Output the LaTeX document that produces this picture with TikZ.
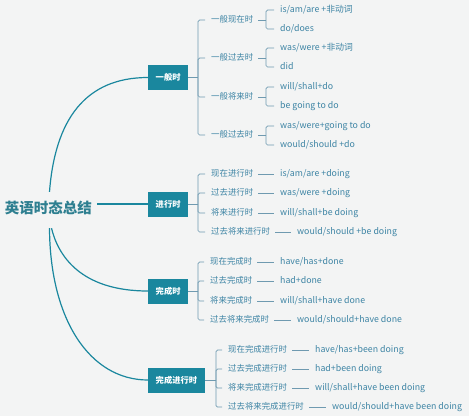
\documentclass[tikz,border=0pt]{standalone}
\usepackage{fontspec}
\setmainfont{Noto Sans CJK SC}
\definecolor{bg}{HTML}{F3F4F4}
\definecolor{teal1}{HTML}{1A879E}
\definecolor{rootc}{HTML}{2E7F90}
\definecolor{gray1}{HTML}{6F9AB0}
\definecolor{blue1}{HTML}{3D84A4}
\begin{document}
\begin{tikzpicture}[x=1pt,y=-1pt,
 mainline/.style={draw=teal1, line width=1.2pt},
 subline/.style={draw=gray1, line width=0.7pt, rounded corners=1.5pt},
 box/.style={anchor=west, fill=teal1, text=white, font=\bfseries\fontsize{8.3}{9}\selectfont, minimum height=25pt, inner xsep=7.5pt},
 lab/.style={anchor=west, inner sep=0pt, text=blue1, font=\fontsize{8.4}{10}\selectfont, text height=6.5pt, text depth=1.5pt},
 eng/.style={lab, font=\fontsize{8.8}{10}\selectfont},
 tick/.style={subline, shorten >=6pt},
 dashln/.style={subline, shorten <=5pt, shorten >=6pt},
]
\fill[bg] (0,0) rectangle (469,416);
\useasboundingbox (0,0) rectangle (469,416);

% root
\node[text=rootc, font=\bfseries\fontsize{14.5}{16}\selectfont, text height=9pt, text depth=3pt, inner xsep=5pt, inner ysep=12pt] (root) at (48.5,210) {英语时态总结};

% boxes
\node[box] (b1) at (148,77.5) {一般时};
\node[box] (b2) at (148,204) {进行时};
\node[box] (b3) at (148,291) {完成时};
\node[box] (b4) at (148,380) {完成进行时};

% main connectors
\draw[mainline] ([xshift=1pt]root.north) .. controls (55,120) and (85,77.5) .. (b1.west);
\draw[mainline] (root.east |- b2.west) -- (b2.west);
\draw[mainline] ([xshift=3pt]root.south) .. controls (58,255) and (80,291) .. (b3.west);
\draw[mainline] ([xshift=1pt]root.south) .. controls (50,320) and (90,380) .. (b4.west);

% ---------- group 1 ----------
\coordinate (j1) at (198,77.5);
\node[lab] (a1) at (211,20) {一般现在时};
\node[lab] (a2) at (211,58) {一般过去时};
\node[lab] (a3) at (211,97) {一般将来时};
\node[lab] (a4) at (211,135) {一般过去时};
\draw[subline] (b1.east) -- (j1);
\foreach \n in {a1,a2,a3,a4} \draw[tick] (j1) |- (\n.west);

\node[eng] (a1x) at (280,10) {is/am/are +非动词};
\node[eng] (a1y) at (280,29) {do/does};
\node[eng] (a2x) at (280,48) {was/were +非动词};
\node[eng] (a2y) at (280,67) {did};
\node[eng] (a3x) at (280,87) {will/shall+do};
\node[eng] (a3y) at (280,106) {be going to do};
\node[eng] (a4x) at (280,126) {was/were+going to do};
\node[eng] (a4y) at (280,145) {would/should +do};
\foreach \n in {a1,a2,a3,a4}{
  \coordinate (k\n) at (266,0 |- \n.west);
  \draw[subline, shorten <=5pt] (\n.east) -- (k\n);
  \draw[tick] (k\n) |- (\n x.west);
  \draw[tick] (k\n) |- (\n y.west);
}

% ---------- group 2 ----------
\coordinate (j2) at (198,204);
\node[lab] (c1) at (211,174) {现在进行时};
\node[lab] (c2) at (211,193) {过去进行时};
\node[lab] (c3) at (211,213) {将来进行时};
\node[lab] (c4) at (211,232) {过去将来进行时};
\draw[subline] (b2.east) -- (j2);
\foreach \n in {c1,c2,c3,c4} \draw[tick] (j2) |- (\n.west);
\node[eng] (c1x) at (280,174) {is/am/are +doing};
\node[eng] (c2x) at (280,193) {was/were +doing};
\node[eng] (c3x) at (280,213) {will/shall+be doing};
\node[eng] (c4x) at (297,232) {would/should +be doing};
\foreach \n in {c1,c2,c3,c4} \draw[dashln] (\n.east) -- (\n x.west);

% ---------- group 3 ----------
\coordinate (j3) at (198,291);
\node[lab] (d1) at (210,262) {现在完成时};
\node[lab] (d2) at (210,281) {过去完成时};
\node[lab] (d3) at (210,301) {将来完成时};
\node[lab] (d4) at (210,320) {过去将来完成时};
\draw[subline] (b3.east) -- (j3);
\foreach \n in {d1,d2,d3,d4} \draw[tick] (j3) |- (\n.west);
\node[eng] (d1x) at (280,262) {have/has+done};
\node[eng] (d2x) at (280,281) {had+done};
\node[eng] (d3x) at (280,301) {will/shall+have done};
\node[eng] (d4x) at (297,320) {would/should+have done};
\foreach \n in {d1,d2,d3,d4} \draw[dashln] (\n.east) -- (\n x.west);

% ---------- group 4 ----------
\coordinate (j4) at (216,380);
\node[lab] (e1) at (228,350) {现在完成进行时};
\node[lab] (e2) at (228,369) {过去完成进行时};
\node[lab] (e3) at (228,388) {将来完成进行时};
\node[lab] (e4) at (228,407) {过去将来完成进行时};
\draw[subline] (b4.east) -- (j4);
\foreach \n in {e1,e2,e3,e4} \draw[tick] (j4) |- (\n.west);
\node[eng] (e1x) at (315,350) {have/has+been doing};
\node[eng] (e2x) at (315,369) {had+been doing};
\node[eng] (e3x) at (315,388) {will/shall+have been doing};
\node[eng] (e4x) at (332,407) {would/should+have been doing};
\foreach \n in {e1,e2,e3,e4} \draw[dashln] (\n.east) -- (\n x.west);
\end{tikzpicture}
\end{document}
